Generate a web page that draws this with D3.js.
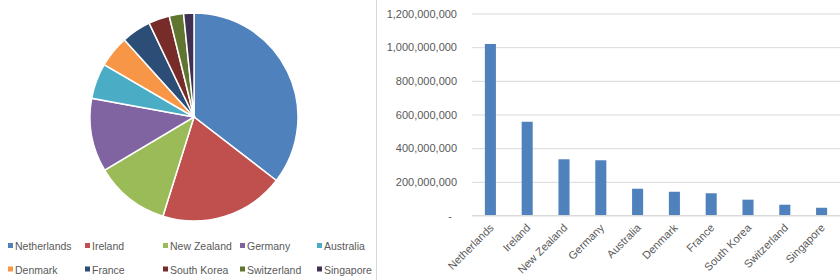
<!DOCTYPE html>
<html>
<head>
<meta charset="utf-8">
<script src="https://cdn.jsdelivr.net/npm/d3@7"></script>
<style>
  body { margin: 0; background: #fff; }
  svg { display: block; font-family: "Liberation Sans", Arial, sans-serif; }
</style>
</head>
<body>
<svg id="canvas" width="840" height="280"></svg>
<script>
let countries = ['Netherlands', 'Ireland', 'New Zealand', 'Germany', 'Australia',
                 'Denmark', 'France', 'South Korea', 'Switzerland', 'Singapore']
let amounts = [1019000000, 557000000, 334000000, 328000000, 159000000,
               141000000, 132000000, 94000000, 64000000, 46000000]
let sliceColors = ['#4F81BD', '#C0504D', '#9BBB59', '#8064A2', '#4BACC6',
                   '#F79646', '#2C4D75', '#772C2A', '#5F7530', '#403152']
let yTicks = [0, 200000000, 400000000, 600000000, 800000000, 1000000000, 1200000000]

let rows = countries.map((c, i) => ({ name: c, value: amounts[i] }))

let canvas = d3.select('#canvas')

// divider between the two charts
canvas.append('line')
      .attr('x1', 376.5).attr('x2', 376.5)
      .attr('y1', 0).attr('y2', 280)
      .attr('stroke', '#d9d9d9')

// ---- pie ----
let color = d3.scaleOrdinal().domain(countries).range(sliceColors)

let pie = d3.pie().sort(null).value((d) => d.value)
let arc = d3.arc().innerRadius(0).outerRadius(104)

canvas.append('g')
      .attr('transform', 'translate(194, 117)')
      .selectAll('path')
      .data(pie(rows))
      .enter()
      .append('path')
      .attr('d', arc)
      .attr('fill', (d) => color(d.data.name))
      .attr('stroke', '#fff')
      .attr('stroke-width', 1.5)

// legend, 5 per row
let legendX = [8, 85, 163, 240, 317]
let legend = canvas.append('g')
                   .selectAll('g')
                   .data(rows)
                   .enter()
                   .append('g')
                   .attr('transform', (d, i) => 'translate(' + legendX[i % 5] + ', ' + (246 + Math.floor(i / 5) * 23.5) + ')')

legend.append('rect')
      .attr('x', 0).attr('y', -3)
      .attr('width', 5).attr('height', 5)
      .attr('fill', (d) => color(d.name))

legend.append('text')
      .attr('x', 7)
      .attr('y', 4)
      .attr('font-size', 10.5)
      .attr('fill', '#595959')
      .text((d) => d.name)

// ---- bar chart ----
let xScale = d3.scaleBand()
               .domain(countries)
               .range([472, 840])
               .paddingInner(0.7)
               .paddingOuter(0.35)

let yScale = d3.scaleLinear()
               .domain([0, 1200000000])
               .range([215.5, 13.5])

let fmt = d3.format(',')

let yAxis = d3.axisLeft(yScale)
              .tickValues(yTicks)
              .tickSize(-(840 - 472))
              .tickPadding(15)
              .tickFormat((v) => v === 0 ? '-' : fmt(v))

let yG = canvas.append('g')
               .attr('transform', 'translate(472, 0)')
               .call(yAxis)
yG.select('.domain').remove()
yG.selectAll('.tick line').attr('stroke', '#d9d9d9')
yG.selectAll('.tick text')
  .attr('font-size', 11)
  .attr('fill', '#595959')
  .attr('font-family', '"Liberation Sans", Arial, sans-serif')
yG.selectAll('.tick')
  .filter((v) => v === 0)
  .select('text')
  .attr('dx', -5)

canvas.append('g')
      .selectAll('rect')
      .data(rows)
      .enter()
      .append('rect')
      .attr('x', (d) => xScale(d.name))
      .attr('y', (d) => yScale(d.value))
      .attr('width', xScale.bandwidth())
      .attr('height', (d) => yScale(0) - yScale(d.value))
      .attr('fill', '#4F81BD')

let xAxis = d3.axisBottom(xScale).tickSize(0).tickPadding(0)
let xG = canvas.append('g')
               .attr('transform', 'translate(0, 215.5)')
               .call(xAxis)
xG.select('.domain').attr('stroke', '#d9d9d9').attr('d', 'M472,0H840')
xG.selectAll('.tick text')
  .attr('font-size', 11)
  .attr('fill', '#595959')
  .attr('font-family', '"Liberation Sans", Arial, sans-serif')
  .attr('text-anchor', 'end')
  .attr('dy', 0)
  .attr('transform', 'translate(4, 13) rotate(-45)')
</script>
</body>
</html>
